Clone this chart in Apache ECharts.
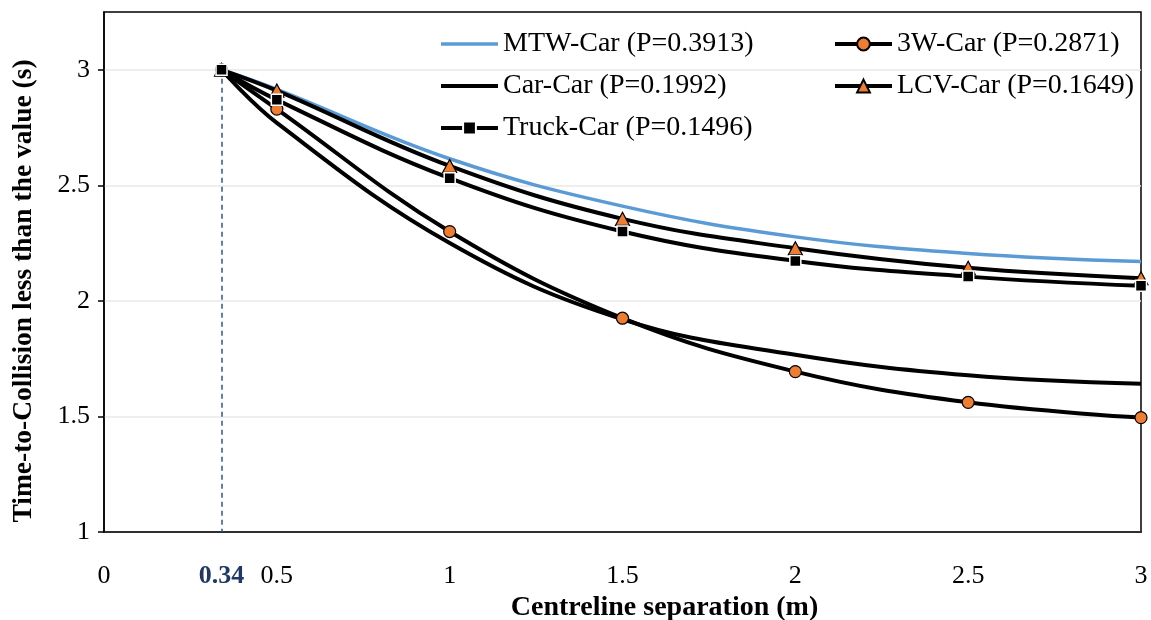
<!DOCTYPE html>
<html>
<head>
<meta charset="utf-8">
<script src="https://cdn.jsdelivr.net/npm/echarts@6/dist/echarts.min.js"></script>
<style>
  html, body { margin: 0; padding: 0; background: #fff; }
  #chart { width: 1151px; height: 620px; }
</style>
</head>
<body>
<div id="chart"></div>
<script>
// Centreline separation (m) at which the TTC thresholds were evaluated
const separation = [0.34, 0.5, 1, 1.5, 2, 2.5, 3];

// Time-to-Collision threshold (s) for each vehicle pair
const mtwCar    = [3, 2.915, 2.615, 2.41, 2.277, 2.205, 2.17];
const threeWCar = [3, 2.83, 2.30, 1.925, 1.694, 1.561, 1.495];
const carCar    = [3, 2.77, 2.25, 1.92, 1.767, 1.678, 1.641];
const lcvCar    = [3, 2.91, 2.584, 2.355, 2.228, 2.143, 2.098];
const truckCar  = [3, 2.87, 2.531, 2.30, 2.173, 2.105, 2.065];

const seriesNames = [
  'MTW-Car (P=0.3913)',
  '3W-Car (P=0.2871)',
  'Car-Car (P=0.1992)',
  'LCV-Car (P=0.1649)',
  'Truck-Car (P=0.1496)'
];

// Axis ranges and tick values
const xRange = [0, 3];
const xStep = 0.5;
const yRange = [1, 3.25];
const yStep = 0.5;
const yTicks = [1, 1.5, 2, 2.5, 3];

// Minimum separation marked on the x axis
const markedSeparation = 0.34;
const markedTtc = 3;

const FONT = 'Liberation Serif, Times New Roman, serif';
const ORANGE = '#ed7d31';
const BLUE = '#5b9bd5';

const pairs = vals => separation.map((x, i) => [x, vals[i]]);

const chart = echarts.init(document.getElementById('chart'), null, { renderer: 'canvas' });

const baseLine = { color: '#000', width: 4 };
const SMOOTH = 0.4;

const legendText = { fontFamily: FONT, fontSize: 28, color: '#000', lineHeight: 30 };
const blackKey = { color: '#000', width: 4 };

chart.setOption({
  animation: false,
  backgroundColor: '#fff',
  textStyle: { fontFamily: FONT },
  grid: {
    left: 104, right: 10, top: 12, bottom: 88,
    show: true, borderColor: '#000', borderWidth: 1.5,
    containLabel: false,
    outerBoundsMode: 'none'
  },
  legend: [
    {
      data: [
        { name: seriesNames[0], itemStyle: { opacity: 0 }, lineStyle: { color: BLUE, width: 3.5 } },
        { name: seriesNames[2], itemStyle: { opacity: 0 }, lineStyle: blackKey },
        { name: seriesNames[4], lineStyle: blackKey }
      ],
      orient: 'vertical',
      left: 434, top: 24,
      itemWidth: 57, itemHeight: 16, itemGap: 12,
      textStyle: legendText
    },
    {
      data: [
        { name: seriesNames[1], lineStyle: blackKey },
        { name: seriesNames[3], lineStyle: blackKey }
      ],
      orient: 'vertical',
      left: 828, top: 24,
      itemWidth: 57, itemHeight: 16, itemGap: 12,
      textStyle: legendText
    }
  ],
  xAxis: {
    type: 'value',
    min: xRange[0], max: xRange[1], interval: xStep,
    axisLine: { show: true, lineStyle: { color: '#000', width: 1.5 } },
    axisTick: { show: false },
    splitLine: { show: false },
    axisLabel: { fontFamily: FONT, fontSize: 26, color: '#000', margin: 31 },
    name: 'Centreline separation (m)',
    nameLocation: 'middle',
    nameGap: 60,
    nameTextStyle: { fontFamily: FONT, fontSize: 28, fontWeight: 'bold', color: '#000', padding: [0, 0, 0, 84] }
  },
  yAxis: {
    type: 'value',
    min: yRange[0], max: yRange[1], interval: yStep,
    axisLine: { show: true, lineStyle: { color: '#000', width: 1.5 } },
    axisTick: {
      show: true, inside: false, length: 6,
      customValues: yTicks,
      lineStyle: { color: '#000', width: 1.5 }
    },
    splitLine: { show: true, lineStyle: { color: '#e8e8e8', width: 1.5 } },
    axisLabel: {
      fontFamily: FONT, fontSize: 26, color: '#000', margin: 14,
      customValues: yTicks
    },
    name: 'Time-to-Collision less than the value (s)',
    nameLocation: 'middle',
    nameGap: 66,
    nameTextStyle: { fontFamily: FONT, fontSize: 27.5, fontWeight: 'bold', color: '#000', padding: [0, 38, 0, 0] }
  },
  series: [
    {
      name: seriesNames[0], type: 'line', smooth: SMOOTH,
      data: pairs(mtwCar), symbol: 'none',
      lineStyle: { color: BLUE, width: 3.5 }, itemStyle: { color: BLUE }
    },
    {
      name: seriesNames[1], type: 'line', smooth: SMOOTH,
      data: pairs(threeWCar), symbol: 'circle', symbolSize: 12,
      lineStyle: baseLine,
      itemStyle: { color: ORANGE, borderColor: '#000', borderWidth: 1.2 }
    },
    {
      name: seriesNames[2], type: 'line', smooth: SMOOTH,
      data: pairs(carCar), symbol: 'none',
      lineStyle: baseLine, itemStyle: { color: '#000' }
    },
    {
      name: seriesNames[3], type: 'line', smooth: SMOOTH,
      data: pairs(lcvCar), symbol: 'triangle', symbolSize: [14, 13],
      lineStyle: baseLine,
      itemStyle: { color: ORANGE, borderColor: '#000', borderWidth: 1.2 }
    },
    {
      name: seriesNames[4], type: 'line', smooth: SMOOTH,
      data: pairs(truckCar), symbol: 'rect', symbolSize: 11,
      lineStyle: baseLine,
      itemStyle: { color: '#000', borderColor: '#fff', borderWidth: 1.5 },
      markLine: {
        silent: true,
        symbol: 'none',
        z: 1,
        lineStyle: { color: '#2f5597', width: 1.5, type: [5, 4] },
        label: {
          show: true, position: 'end', distance: 31,
          formatter: String(markedSeparation),
          fontFamily: FONT, fontSize: 26, fontWeight: 'bold', color: '#1f3864'
        },
        data: [[
          { coord: [markedSeparation, markedTtc] },
          { coord: [markedSeparation, yRange[0]] }
        ]]
      }
    }
  ]
});
</script>
</body>
</html>
